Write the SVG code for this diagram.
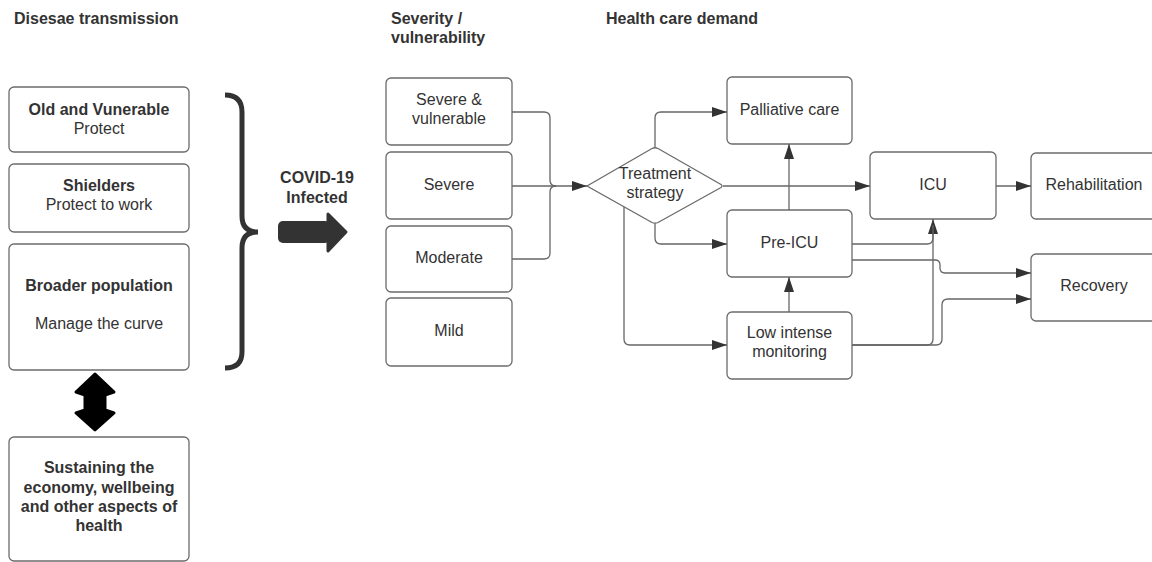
<svg xmlns="http://www.w3.org/2000/svg" width="1152" height="562" viewBox="0 0 1152 562">
<defs>
<style>
.box{fill:#fff;stroke:#6b6b6b;stroke-width:1.3}
.t{font-family:"Liberation Sans",Arial,sans-serif;font-size:16px;fill:#333;text-anchor:middle}
.b{font-weight:bold}
.h{font-family:"Liberation Sans",Arial,sans-serif;font-size:16px;font-weight:bold;fill:#333}
.c{fill:none;stroke:#666;stroke-width:1.3}
</style>
<marker id="ah" markerUnits="userSpaceOnUse" markerWidth="16" markerHeight="11" refX="15" refY="5" orient="auto">
<path d="M0,0 L15,5 L0,10 z" fill="#333"/>
</marker>
</defs>
<rect width="1152" height="562" fill="#fff"/>

<g id="headers">
<text class="h" x="14" y="24">Disesae transmission</text>
<text class="h" x="391" y="24">Severity /</text>
<text class="h" x="391" y="43">vulnerability</text>
<text class="h" x="606" y="24">Health care demand</text>
</g>

<g id="old-vulnerable">
<rect class="box" x="9" y="87" width="180" height="65" rx="5"/>
<text class="t b" x="99" y="115">Old and Vunerable</text>
<text class="t" x="99" y="134">Protect</text>
</g>
<g id="shielders">
<rect class="box" x="9" y="164" width="180" height="68" rx="5"/>
<text class="t b" x="99" y="191">Shielders</text>
<text class="t" x="99" y="210">Protect to work</text>
</g>
<g id="broader">
<rect class="box" x="9" y="244" width="180" height="126" rx="5"/>
<text class="t b" x="99" y="291">Broader population</text>
<text class="t" x="99" y="329">Manage the curve</text>
</g>
<g id="sustaining">
<rect class="box" x="9" y="437" width="180" height="124" rx="5"/>
<text class="t b" x="99" y="473">Sustaining the</text>
<text class="t b" x="99" y="493">economy, wellbeing</text>
<text class="t b" x="99" y="512">and other aspects of</text>
<text class="t b" x="99" y="531">health</text>
</g>
<g id="double-arrow">
<polygon points="95,374 114,392 105,395 105,410 114,413 95,430 76,413 85,410 85,395 76,392" fill="#000" stroke="#000" stroke-width="3" stroke-linejoin="round"/>
</g>
<g id="brace">
<path d="M225,95 Q242,95 242,112 V216 Q242,232 258,232 Q242,232 242,248 V352 Q242,368 225,368" fill="none" stroke="#333" stroke-width="5"/>
</g>
<g id="infected">
<text class="t b" x="317" y="183">COVID-19</text>
<text class="t b" x="317" y="203">Infected</text>
<rect x="278" y="221" width="52" height="22" rx="5" fill="#333"/>
<polygon points="328,214 346,232 328,251" fill="#333" stroke="#333" stroke-width="3" stroke-linejoin="round"/>
</g>

<g id="severe-vulnerable">
<rect class="box" x="386" y="78" width="126" height="67" rx="5"/>
<text class="t" x="449" y="105">Severe &amp;</text>
<text class="t" x="449" y="124">vulnerable</text>
</g>
<g id="severe">
<rect class="box" x="386" y="152" width="126" height="67" rx="5"/>
<text class="t" x="449" y="190">Severe</text>
</g>
<g id="moderate">
<rect class="box" x="386" y="226" width="126" height="66" rx="5"/>
<text class="t" x="449" y="263">Moderate</text>
</g>
<g id="mild">
<rect class="box" x="386" y="298" width="126" height="68" rx="5"/>
<text class="t" x="449" y="336">Mild</text>
</g>

<g id="treatment">
<path class="box" d="M587,186 L652,148.5 Q655,147 658,148.5 L721,184.5 Q723,186 721,187.5 L658,222.5 Q655,224 652,222.5 Z"/>
<text class="t" x="655" y="179">Treatment</text>
<text class="t" x="655" y="198">strategy</text>
</g>
<g id="palliative">
<rect class="box" x="727" y="77" width="125" height="67" rx="5"/>
<text class="t" x="789.5" y="115">Palliative care</text>
</g>
<g id="pre-icu">
<rect class="box" x="727" y="210" width="125" height="67" rx="5"/>
<text class="t" x="789.5" y="248">Pre-ICU</text>
</g>
<g id="low-intense">
<rect class="box" x="727" y="312" width="125" height="67" rx="5"/>
<text class="t" x="789.5" y="338">Low intense</text>
<text class="t" x="789.5" y="357">monitoring</text>
</g>
<g id="icu">
<rect class="box" x="870" y="152" width="126" height="67" rx="5"/>
<text class="t" x="933" y="190">ICU</text>
</g>
<g id="rehabilitation">
<rect class="box" x="1031" y="153" width="126" height="66" rx="5"/>
<text class="t" x="1094" y="190">Rehabilitation</text>
</g>
<g id="recovery">
<rect class="box" x="1031" y="254" width="126" height="67" rx="5"/>
<text class="t" x="1094" y="291">Recovery</text>
</g>

<g id="connectors">
<path class="c" d="M512,112 H544 Q550,112 550,118 V180 Q550,186 556,186"/>
<path class="c" d="M512,259 H544 Q550,259 550,253 V192 Q550,186 556,186"/>
<path class="c" d="M512,186 H587" marker-end="url(#ah)"/>
<path class="c" d="M655,147 V118 Q655,112 661,112 H727" marker-end="url(#ah)"/>
<path class="c" d="M655,224 V238 Q655,244 661,244 H727" marker-end="url(#ah)"/>
<path class="c" d="M624,207 V339 Q624,345 630,345 H727" marker-end="url(#ah)"/>
<path class="c" d="M723,186 H870" marker-end="url(#ah)"/>
<path class="c" d="M789,210 V144" marker-end="url(#ah)"/>
<path class="c" d="M789,312 V277" marker-end="url(#ah)"/>
<path class="c" d="M996,186 H1031" marker-end="url(#ah)"/>
<path class="c" d="M852,244 H927 Q933,244 933,238 V219" marker-end="url(#ah)"/>
<path class="c" d="M852,345 H927 Q933,345 933,339 V225"/>
<path class="c" d="M852,260 H935 Q940,260 940,265 V268 Q940,273 945,273 H1031" marker-end="url(#ah)"/>
<path class="c" d="M852,345 H936 Q942,345 942,339 V305 Q942,299 948,299 H1031" marker-end="url(#ah)"/>
</g>
</svg>
